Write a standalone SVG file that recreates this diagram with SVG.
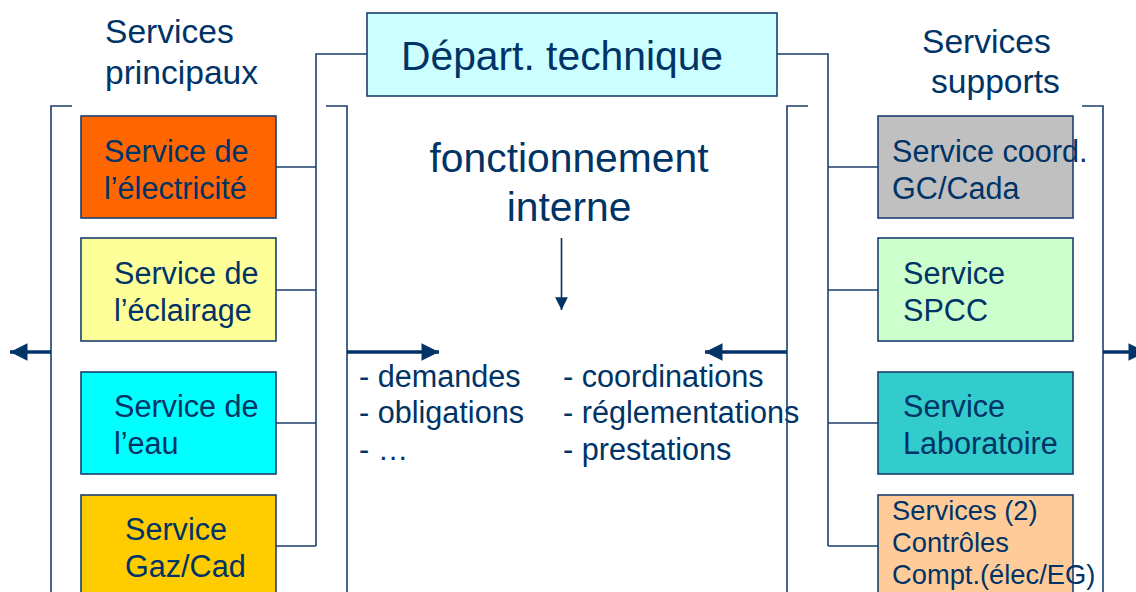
<svg xmlns="http://www.w3.org/2000/svg" width="1136" height="592" viewBox="0 0 1136 592">
<style>
.t{font-family:"Liberation Sans",Arial,sans-serif;fill:#003366}
.b{stroke:#1b3f6e;stroke-width:1.6}
.ln{fill:none;stroke:#1b3f6e;stroke-width:1.6}
.thick{fill:none;stroke:#003366;stroke-width:3.5}
.f30{font-size:30.6px}
.f27{font-size:27.3px}
.f33{font-size:33.6px}
.f40{font-size:40.8px}
</style>
<defs>
<marker id="ah" viewBox="0 0 10 10" refX="10" refY="5" markerWidth="5.4" markerHeight="5" markerUnits="strokeWidth" orient="auto"><path d="M0,0 L10,5 L0,10 z" fill="#003366"/></marker>
<marker id="ahs" viewBox="0 0 10 10" refX="10" refY="5" markerWidth="8" markerHeight="8" markerUnits="strokeWidth" orient="auto"><path d="M0,0 L10,5 L0,10 z" fill="#003366"/></marker>
</defs>
<rect width="1136" height="592" fill="#fff"/>

<g id="labels">
<text class="t f33" x="105" y="43">Services</text>
<text class="t f33" x="105" y="84">principaux</text>
<text class="t f33" x="922" y="53">Services</text>
<text class="t f33" x="931" y="93">supports</text>
<text class="t f40" x="569" y="172" text-anchor="middle">fonctionnement</text>
<text class="t f40" x="569" y="221" text-anchor="middle">interne</text>
<text class="t f30" x="359" y="387">- demandes</text>
<text class="t f30" x="359" y="423">- obligations</text>
<text class="t f30" x="359" y="460">- …</text>
<text class="t f30" x="563" y="387">- coordinations</text>
<text class="t f30" x="563" y="423">- réglementations</text>
<text class="t f30" x="563" y="460">- prestations</text>
</g>

<g id="connectors">
<path class="ln" d="M367,54 H316 V546 M275,167 H316 M275,290 H316 M275,423 H316 M275,546 H316"/>
<path class="ln" d="M777,54 H828 V546 M828,167 H878 M828,290 H878 M828,423 H878 M828,546 H878"/>
<path class="ln" d="M72,106 H51 V592 M326,106 H347 V592"/>
<path class="ln" d="M808,106 H787 V592 M1082,106 H1103 V592"/>
<line x1="561.5" y1="238" x2="561.5" y2="310" stroke="#003366" stroke-width="1.6" marker-end="url(#ahs)"/>
<line class="thick" x1="51" y1="352" x2="10" y2="352" marker-end="url(#ah)"/>
<line class="thick" x1="347" y1="352" x2="439" y2="352" marker-end="url(#ah)"/>
<line class="thick" x1="787" y1="352" x2="705" y2="352" marker-end="url(#ah)"/>
<line class="thick" x1="1103" y1="352" x2="1146" y2="352" marker-end="url(#ah)"/>
</g>

<g id="depart">
<rect class="b" x="367" y="13" width="410" height="83" fill="#CCFFFF"/>
<text class="t f40" x="401" y="70">Départ. technique</text>
</g>

<g id="svc-electricite">
<rect class="b" x="81" y="116" width="195" height="102" fill="#FF6600"/>
<text class="t f30" x="104" y="162">Service de</text>
<text class="t f30" x="104" y="199">l’électricité</text>
</g>
<g id="svc-eclairage">
<rect class="b" x="81" y="238" width="195" height="103" fill="#FFFF99"/>
<text class="t f30" x="114" y="284">Service de</text>
<text class="t f30" x="114" y="321">l’éclairage</text>
</g>
<g id="svc-eau">
<rect class="b" x="81" y="372" width="195" height="102" fill="#00FFFF"/>
<text class="t f30" x="114" y="417">Service de</text>
<text class="t f30" x="114" y="454">l’eau</text>
</g>
<g id="svc-gaz">
<rect class="b" x="81" y="495" width="195" height="110" fill="#FFCC00"/>
<text class="t f30" x="125" y="540">Service</text>
<text class="t f30" x="125" y="577">Gaz/Cad</text>
</g>

<g id="svc-coord">
<rect class="b" x="878" y="116" width="195" height="102" fill="#C0C0C0"/>
<text class="t f30" x="892" y="162">Service coord.</text>
<text class="t f30" x="892" y="199">GC/Cada</text>
</g>
<g id="svc-spcc">
<rect class="b" x="878" y="238" width="195" height="103" fill="#CCFFCC"/>
<text class="t f30" x="903" y="284">Service</text>
<text class="t f30" x="903" y="321">SPCC</text>
</g>
<g id="svc-labo">
<rect class="b" x="878" y="372" width="195" height="102" fill="#33CCCC"/>
<text class="t f30" x="903" y="417">Service</text>
<text class="t f30" x="903" y="454">Laboratoire</text>
</g>
<g id="svc-controles">
<rect class="b" x="878" y="495" width="195" height="110" fill="#FFCC99"/>
<text class="t f27" x="892" y="520">Services (2)</text>
<text class="t f27" x="892" y="552">Contrôles</text>
<text class="t f27" x="892" y="584">Compt.(élec/EG)</text>
</g>
</svg>
